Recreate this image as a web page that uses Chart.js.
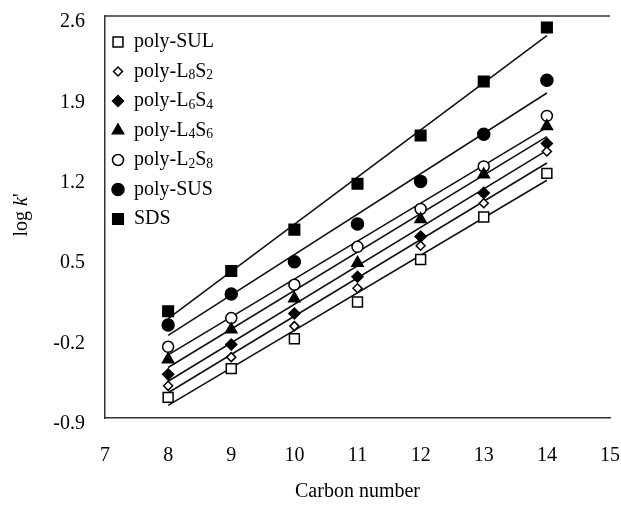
<!DOCTYPE html>
<html lang="en">
<head>
  <meta charset="UTF-8" />
  <title>log k' vs carbon number</title>
  <script src="https://cdn.jsdelivr.net/npm/chart.js"></script>
  <style>
    html, body {
      margin: 0;
      padding: 0;
      background: #fff;
    }
    #wrap {
      position: relative;
      width: 621px;
      height: 508px;
    }
  </style>
</head>
<body>

  <div id="wrap"><canvas id="chart"></canvas></div>

  <script>
    const carbonNumbers = [8, 9, 10, 11, 12, 13, 14];
    const seriesNames = ["poly-SUL", "poly-L₈S₂", "poly-L₆S₄", "poly-L₄S₆", "poly-L₂S₈", "poly-SUS", "SDS"];

    const polySUL  = [-0.72, -0.47, -0.21, 0.11, 0.48, 0.85, 1.23];
    const polyL8S2 = [-0.62, -0.37, -0.10, 0.23, 0.60, 0.97, 1.42];
    const polyL6S4 = [-0.52, -0.26, 0.01, 0.33, 0.68, 1.06, 1.49];
    const polyL4S6 = [-0.39, -0.13, 0.14, 0.45, 0.83, 1.22, 1.64];
    const polyL2S8 = [-0.28, -0.03, 0.26, 0.59, 0.92, 1.29, 1.73];
    const polySUS  = [-0.09, 0.18, 0.46, 0.79, 1.16, 1.57, 2.04];
    const sds      = [0.03, 0.38, 0.74, 1.14, 1.56, 2.03, 2.50];

    // fitted lines, read at carbon number 8 and 14 (same series order)
    const fitAt8  = [-0.79, -0.68, -0.58, -0.46, -0.35, -0.18, -0.035];
    const fitAt14 = [1.17, 1.32, 1.43, 1.55, 1.63, 1.93, 2.43];

    const xTicks = [7, 8, 9, 10, 11, 12, 13, 14, 15];
    const yTicks = [-0.9, -0.2, 0.5, 1.2, 1.9, 2.6];

    const allSeries = [polySUL, polyL8S2, polyL6S4, polyL4S6, polyL2S8, polySUS, sds];
    const markers = [
      { style: "rect",     radius: 7,   fill: "#fff" },
      { style: "rectRot",  radius: 4.5, fill: "#fff" },
      { style: "rectRot",  radius: 5.5, fill: "#000" },
      { style: "triangle", radius: 6.5, fill: "#000" },
      { style: "circle",   radius: 5.5, fill: "#fff" },
      { style: "circle",   radius: 6,   fill: "#000" },
      { style: "rect",     radius: 7.5, fill: "#000" }
    ];
    const serif = '"Liberation Serif", "Times New Roman", serif';

    const pointSets = allSeries.map((vals, i) => ({
      label: seriesNames[i],
      data: vals.map((v, j) => ({ x: carbonNumbers[j], y: v })),
      showLine: false,
      pointStyle: markers[i].style,
      pointRadius: markers[i].radius,
      pointBackgroundColor: markers[i].fill,
      pointBorderColor: "#000",
      pointBorderWidth: 1.5,
      order: 1
    }));

    const fitSets = allSeries.map((vals, i) => ({
      label: seriesNames[i] + " fit",
      data: [{ x: 8, y: fitAt8[i] }, { x: 14, y: fitAt14[i] }],
      showLine: true,
      borderColor: "#111",
      borderWidth: 1.6,
      pointRadius: 0,
      order: 2
    }));

    // write text, turning unicode subscript digits into small lowered digits
    function drawRich(ctx, text, x, y, size) {
      const subs = "₀₁₂₃₄₅₆₇₈₉";
      for (const ch of text) {
        const k = subs.indexOf(ch);
        if (k >= 0) {
          ctx.font = `${size * 0.68}px ${serif}`;
          ctx.fillText(String(k), x, y + size * 0.2);
          x += ctx.measureText(String(k)).width;
        } else {
          ctx.font = `${size}px ${serif}`;
          ctx.fillText(ch, x, y);
          x += ctx.measureText(ch).width;
        }
      }
    }

    const extras = {
      id: "extras",
      afterDraw(chart) {
        const ctx = chart.ctx;
        const a = chart.chartArea;
        ctx.save();

        // top edge of the plot frame
        ctx.strokeStyle = "#333";
        ctx.lineWidth = 1.5;
        ctx.beginPath();
        ctx.moveTo(a.left, a.top);
        ctx.lineTo(a.right, a.top);
        ctx.stroke();

        // legend inside the plot
        ctx.textBaseline = "middle";
        ctx.textAlign = "left";
        seriesNames.forEach((name, i) => {
          const y = a.top + 26 + i * 29.5;
          ctx.fillStyle = markers[i].fill;
          ctx.strokeStyle = "#000";
          ctx.lineWidth = 1.5;
          Chart.helpers.drawPoint(ctx, {
            pointStyle: markers[i].style,
            radius: markers[i].radius,
            borderWidth: 1.5,
            rotation: 0
          }, a.left + 13, y);
          ctx.fillStyle = "#000";
          drawRich(ctx, name, a.left + 29, y, 20);
        });

        // y title: log k'
        ctx.translate(22, 215);
        ctx.rotate(-Math.PI / 2);
        const parts = [["log ", ""], ["k", "italic "], ["'", ""]];
        let w = 0;
        parts.forEach(p => { ctx.font = `${p[1]}20px ${serif}`; w += ctx.measureText(p[0]).width; });
        let x = -w / 2;
        parts.forEach(p => {
          ctx.font = `${p[1]}20px ${serif}`;
          ctx.fillText(p[0], x, 0);
          x += ctx.measureText(p[0]).width;
        });
        ctx.restore();
      }
    };

    new Chart(document.getElementById("chart"), {
      type: "scatter",
      data: { datasets: [...pointSets, ...fitSets] },
      options: {
        responsive: true,
        maintainAspectRatio: false,
        animation: false,
        layout: { padding: { left: 45, right: 11, top: 16, bottom: 0 } },
        plugins: {
          legend: { display: false },
          tooltip: { enabled: false }
        },
        scales: {
          x: {
            type: "linear",
            min: 7,
            max: 15,
            afterBuildTicks: s => { s.ticks = xTicks.map(v => ({ value: v })); },
            afterFit: s => { s.height = 90; s.paddingLeft = 0; s.paddingRight = 0; },
            grid: { display: false, drawTicks: false },
            border: { display: true, color: "#333", width: 1.5 },
            ticks: { color: "#000", padding: 26, font: { family: serif, size: 20 } },
            title: {
              display: true,
              text: "Carbon number",
              color: "#000",
              padding: { top: 0, bottom: 4 },
              font: { family: serif, size: 20 }
            }
          },
          y: {
            type: "linear",
            min: -0.9,
            max: 2.6,
            afterBuildTicks: s => { s.ticks = yTicks.map(v => ({ value: v })); },
            afterFit: s => { s.width = 60; s.paddingTop = 0; s.paddingBottom = 0; },
            grid: { display: false, drawTicks: false },
            border: { display: true, color: "#333", width: 1.5 },
            ticks: {
              color: "#000",
              padding: 20,
              labelOffset: 6,
              font: { family: serif, size: 20 },
              callback: v => v.toFixed(1)
            }
          }
        }
      },
      plugins: [extras]
    });
  </script>

</body>
</html>
